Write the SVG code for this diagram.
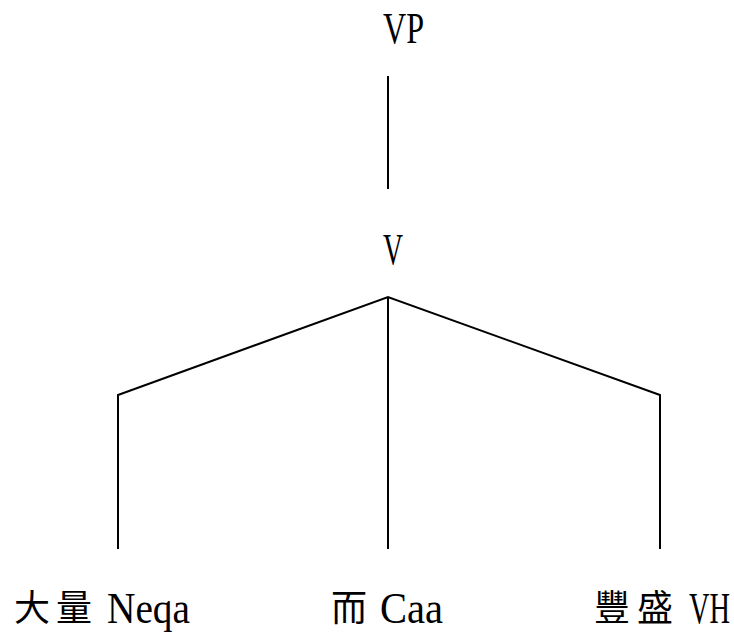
<svg xmlns="http://www.w3.org/2000/svg" width="734" height="635" viewBox="0 0 734 635">
  <style>
    .lat { font-family: "Liberation Serif", "Times New Roman", serif; font-size: 45px; fill: #000; }
    .cjk { font-family: "Noto Sans CJK TC", "Noto Sans CJK SC", sans-serif; font-size: 36px; fill: #000; }
    .edge { stroke: #000; stroke-width: 2; fill: none; }
  </style>
  <rect width="734" height="635" fill="#fff"/>

  <!-- tree branches -->
  <g id="connectors">
    <line class="edge" x1="388" y1="76" x2="388" y2="189"/>
    <polyline class="edge" points="118,549 118,395 388,297 660,395 660,549"/>
    <line class="edge" x1="388" y1="297" x2="388" y2="549"/>
  </g>

  <g id="node-vp">
    <text class="lat" x="383" y="43" textLength="41" lengthAdjust="spacingAndGlyphs">VP</text>
  </g>

  <g id="node-v">
    <text class="lat" x="383" y="264" textLength="20" lengthAdjust="spacingAndGlyphs">V</text>
  </g>

  <g id="leaf-daliang">
    <text class="cjk" x="14 56" y="621">大量</text>
    <text class="lat" x="107" y="623" textLength="83" lengthAdjust="spacingAndGlyphs">Neqa</text>
  </g>

  <g id="leaf-er">
    <text class="cjk" x="331" y="621">而</text>
    <text class="lat" x="380" y="623" textLength="63" lengthAdjust="spacingAndGlyphs">Caa</text>
  </g>

  <g id="leaf-fengsheng">
    <text class="cjk" x="594 637" y="621">豐盛</text>
    <text class="lat" x="689" y="623" textLength="41" lengthAdjust="spacingAndGlyphs">VH</text>
  </g>
</svg>
